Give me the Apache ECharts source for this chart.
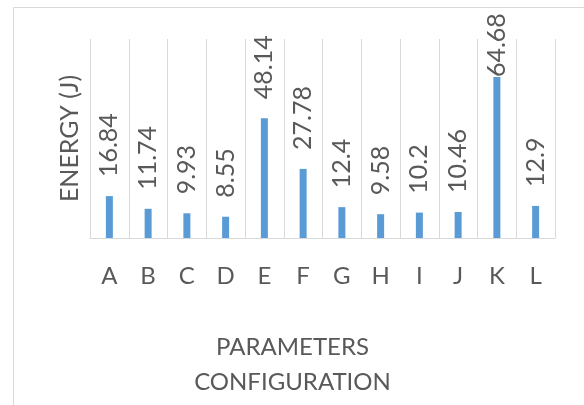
<!DOCTYPE html>
<html>
<head>
<meta charset="utf-8">
<script src="https://cdn.jsdelivr.net/npm/echarts@6/dist/echarts.min.js"></script>
<style>
  html, body { margin: 0; padding: 0; background: #fff; }
  #chart { width: 584px; height: 405px; }
</style>
</head>
<body>
<div id="chart"></div>
<script>
    const categories = ['A', 'B', 'C', 'D', 'E', 'F', 'G', 'H', 'I', 'J', 'K', 'L'];
    const energy = [16.84, 11.74, 9.93, 8.55, 48.14, 27.78, 12.4, 9.58, 10.2, 10.46, 64.68, 12.9];

    const FONT = 'Lato';
    const TEXT = '#595959';
    const GRID = '#D9D9D9';

    const chart = echarts.init(document.getElementById('chart'));

    // label sits above the bar, except K which gets pushed down to fit
    const barData = energy.map((v, i) => {
        if (categories[i] === 'K') {
            return { value: v, label: { distance: 0 } };
        }
        return v;
    });

    const option = {
        animation: false,
        graphic: [{
            type: 'rect',
            shape: { x: 13.5, y: 7.5, width: 700, height: 500 },
            style: { fill: 'none', stroke: GRID, lineWidth: 1 },
            silent: true
        }],
        grid: { left: 90, right: 29, top: 39, bottom: 167 },
        xAxis: {
            type: 'category',
            data: categories,
            name: 'PARAMETERS\nCONFIGURATION',
            nameLocation: 'middle',
            nameGap: 92,
            nameTextStyle: {
                fontFamily: FONT, fontSize: 24, color: TEXT,
                lineHeight: 35, padding: [0, 60, 0, 0]
            },
            axisLine: { lineStyle: { color: GRID, width: 1 } },
            axisTick: { show: false },
            axisLabel: { fontFamily: FONT, fontSize: 24, color: TEXT, margin: 26 },
            splitLine: { show: true, lineStyle: { color: GRID, width: 1 } }
        },
        yAxis: {
            type: 'value',
            min: 0,
            max: 80,
            name: 'ENERGY (J)',
            nameLocation: 'middle',
            nameGap: 8,
            nameTextStyle: { fontFamily: FONT, fontSize: 25, color: TEXT },
            axisLine: { show: false },
            axisTick: { show: false },
            axisLabel: { show: false },
            splitLine: { show: false }
        },
        series: [{
            type: 'bar',
            data: barData,
            barWidth: 7,
            itemStyle: { color: '#5B9BD5' },
            label: {
                show: true,
                position: 'top',
                rotate: 90,
                align: 'left',
                verticalAlign: 'middle',
                distance: 19,
                fontFamily: FONT,
                fontSize: 25,
                color: TEXT
            }
        }]
    };

    chart.setOption(option);

    window.addEventListener('resize', () => {
        if (chart) chart.resize();
    });
</script>
</body>
</html>
